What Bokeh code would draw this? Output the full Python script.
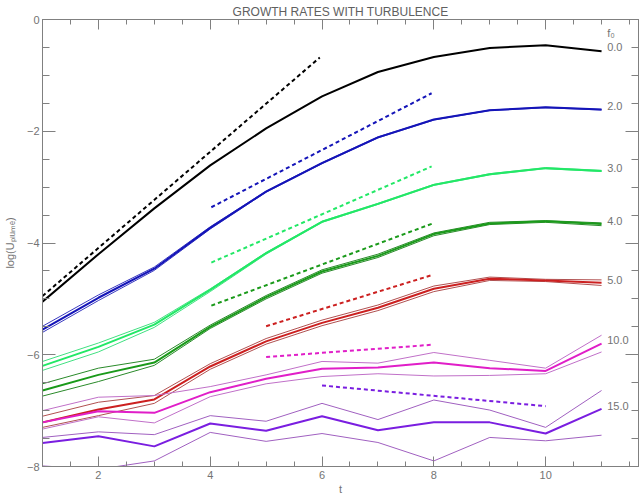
from bokeh.plotting import figure
from bokeh.models import Range1d, LinearAxis, SingleIntervalTicker
from bokeh.core.properties import value
from bokeh.embed import file_html
from bokeh.resources import INLINE

# ---------------- data ----------------
t = [1, 2, 3, 4, 5, 6, 7, 8, 9, 10, 11]

black_mid = [-5.05, -4.20, -3.38, -2.61, -1.95, -1.375, -0.94, -0.67, -0.51, -0.46, -0.57]

blue_mid = [-5.55, -4.98, -4.46, -3.73, -3.08, -2.57, -2.11, -1.79, -1.625, -1.57, -1.61]
blue_hi = [-5.49, -4.93, -4.43, -3.71, -3.07, -2.56, -2.10, -1.79, -1.62, -1.57, -1.61]
blue_lo = [-5.60, -5.03, -4.49, -3.75, -3.09, -2.58, -2.12, -1.80, -1.63, -1.58, -1.62]

lgreen_mid = [-6.20, -5.86, -5.46, -4.84, -4.18, -3.62, -3.30, -2.96, -2.77, -2.66, -2.71]
lgreen_hi = [-6.12, -5.79, -5.42, -4.82, -4.17, -3.61, -3.29, -2.95, -2.76, -2.65, -2.70]
lgreen_lo = [-6.28, -5.95, -5.51, -4.87, -4.20, -3.63, -3.31, -2.97, -2.78, -2.67, -2.72]

dgreen_mid = [-6.64, -6.36, -6.14, -5.50, -4.97, -4.51, -4.23, -3.84, -3.65, -3.61, -3.66]
dgreen_hi = [-6.52, -6.24, -6.08, -5.47, -4.94, -4.48, -4.20, -3.82, -3.63, -3.60, -3.64]
dgreen_lo = [-6.74, -6.48, -6.19, -5.53, -5.00, -4.54, -4.26, -3.87, -3.67, -3.63, -3.69]

red_mid = [-7.21, -6.98, -6.80, -6.21, -5.76, -5.43, -5.16, -4.82, -4.64, -4.67, -4.71]
red_hi = [-7.10, -6.85, -6.73, -6.16, -5.71, -5.38, -5.11, -4.77, -4.61, -4.65, -4.66]
red_lo = [-7.30, -7.09, -6.87, -6.26, -5.81, -5.48, -5.21, -4.87, -4.67, -4.69, -4.76]

mag_mid = [-7.21, -7.01, -7.04, -6.67, -6.43, -6.25, -6.23, -6.14, -6.24, -6.29, -5.80]
mag_hi = [-7.00, -6.76, -6.73, -6.57, -6.36, -6.12, -6.15, -5.96, -6.10, -6.24, -5.65]
mag_lo = [-7.33, -7.11, -7.22, -6.75, -6.52, -6.39, -6.34, -6.38, -6.37, -6.34, -5.95]

pur_mid = [-7.58, -7.46, -7.64, -7.23, -7.36, -7.10, -7.35, -7.21, -7.21, -7.41, -6.97]
pur_hi = [-7.48, -7.38, -7.43, -7.09, -7.19, -6.87, -7.16, -6.81, -6.99, -7.30, -6.64]
pur_lo = [-7.99, -8.05, -7.90, -7.39, -7.55, -7.41, -7.57, -7.90, -7.48, -7.54, -7.44]

# dashed fit lines: (t start, t end), (y start, y end)
black_fit_t, black_fit_y = [1.0, 5.96], [-4.95, -0.68]
blue_fit_t, blue_fit_y = [4.02, 7.96], [-3.36, -1.32]
lgreen_fit_t, lgreen_fit_y = [4.02, 7.96], [-4.35, -2.63]
dgreen_fit_t, dgreen_fit_y = [4.02, 7.98], [-5.12, -3.65]
red_fit_t, red_fit_y = [5.0, 7.98], [-5.49, -4.57]
mag_fit_t, mag_fit_y = [5.0, 7.98], [-6.04, -5.82]
pur_fit_t, pur_fit_y = [6.0, 10.0], [-6.55, -6.92]

# right-hand f0 labels
f0_labels = ["0.0", "2.0", "3.0", "4.0", "5.0", "10.0", "15.0"]
f0_label_y = [-0.50, -1.55, -2.66, -3.60, -4.66, -5.73, -6.92]
f0_label_t = 11.1

x_ticks_labels = {2: "2", 4: "4", 6: "6", 8: "8", 10: "10"}
y_ticks_labels = {0: "0", -2: "\u22122", -4: "\u22124", -6: "\u22126", -8: "\u22128"}

# ---------------- figure ----------------
W, H = 639, 497
FL, FR, FT, FB = 41, 1, 19, 30
p = figure(width=W, height=H, output_backend="svg", toolbar_location=None,
           title="GROWTH RATES WITH TURBULENCE",
           x_range=Range1d(1, 1 + (W - FL - FR) / 56), y_range=Range1d(-8, 0),
           min_border_left=FL, min_border_right=FR, min_border_top=FT, min_border_bottom=FB)
p.outline_line_color = "#808080"
p.xgrid.visible = False
p.ygrid.visible = False
p.background_fill_color = None
p.border_fill_color = None

AX = "#808080"
TXT = "#737373"
FONT = "Liberation Sans"

p.title.text_font = FONT
p.title.text_font_size = "12px"
p.title.text_font_style = "normal"
p.title.text_color = "#606060"
p.title.align = "center"
p.title.standoff = 2


def style_axis(ax, horizontal, labels=None):
    ax.ticker = SingleIntervalTicker(interval=2, num_minor_ticks=4)
    ax.axis_line_color = AX
    ax.axis_line_width = 1
    ax.major_tick_line_color = AX
    ax.minor_tick_line_color = AX
    ax.major_tick_line_width = 1
    ax.minor_tick_line_width = 1
    ax.major_tick_out = 0
    ax.minor_tick_out = 0
    if horizontal:
        ax.major_tick_in = 10
        ax.minor_tick_in = 5
    else:
        ax.major_tick_in = 13
        ax.minor_tick_in = 7
    if labels is None:
        ax.major_label_text_font_size = "1px"
        ax.major_label_text_color = None
        ax.major_label_standoff = 0
    else:
        ax.major_label_overrides = labels
        ax.major_label_text_font = FONT
        ax.major_label_text_font_size = "11px"
        ax.major_label_text_color = TXT
    ax.axis_label_text_font = FONT
    ax.axis_label_text_font_size = "11px"
    ax.axis_label_text_font_style = "normal"
    ax.axis_label_text_color = TXT


xa = p.xaxis[0]
style_axis(xa, True, x_ticks_labels)
xa.major_label_standoff = 4
xa.axis_label = "t"
xa.axis_label_standoff = 1

ya = p.yaxis[0]
style_axis(ya, False, y_ticks_labels)
ya.major_label_standoff = 3
ya.axis_label = "log(U\u209a\u2097\u1d64\u2098\u2091)"
ya.axis_label_standoff = 8

top = LinearAxis()
style_axis(top, True)
p.add_layout(top, "above")
right = LinearAxis()
style_axis(right, False)
p.add_layout(right, "right")

# ---------------- lines ----------------
groups = [
    ("#000000", None, black_mid, None, None, black_fit_t, black_fit_y),
    ("#1414b8", "#3a3ac0", blue_mid, blue_hi, blue_lo, blue_fit_t, blue_fit_y),
    ("#22e866", "#40e080", lgreen_mid, lgreen_hi, lgreen_lo, lgreen_fit_t, lgreen_fit_y),
    ("#1a9a1a", "#2a8a2a", dgreen_mid, dgreen_hi, dgreen_lo, dgreen_fit_t, dgreen_fit_y),
    ("#cc2020", "#b05050", red_mid, red_hi, red_lo, red_fit_t, red_fit_y),
    ("#e01ec8", "#c070c8", mag_mid, mag_hi, mag_lo, mag_fit_t, mag_fit_y),
    ("#7a1ee0", "#a060c0", pur_mid, pur_hi, pur_lo, pur_fit_t, pur_fit_y),
]

for col, thin, mid, hi, lo, ft, fy in groups:
    if hi is not None:
        p.line(t, hi, line_color=thin, line_width=1)
        p.line(t, lo, line_color=thin, line_width=1)
    p.line(t, mid, line_color=col, line_width=2)
    p.line(ft, fy, line_color=col, line_width=2, line_dash="4 3")

p.text(x=[f0_label_t] * len(f0_labels), y=f0_label_y, text=f0_labels,
       text_font=value(FONT), text_font_size="11px", text_color=TXT,
       text_align="left", text_baseline="middle")
p.text(x=[f0_label_t], y=[-0.25], text=["f\u2080"],
       text_font=value(FONT), text_font_size="11px", text_color=TXT,
       text_align="left", text_baseline="middle")

open("out.html", "w").write(file_html(p, INLINE))
